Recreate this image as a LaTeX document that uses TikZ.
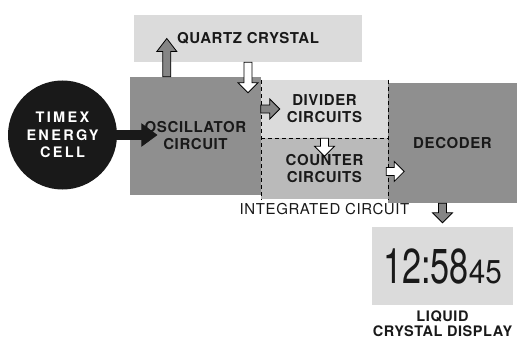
\documentclass[tikz,border=0pt]{standalone}
\usepackage{fontspec}
\setmainfont{TeX Gyre Heros}[LetterSpace=4]
\newfontfamily\lcdfont{TeX Gyre Heros}
\newfontfamily\cellfont{TeX Gyre Heros}[LetterSpace=16]
\usepackage{graphicx}
\usetikzlibrary{calc,positioning}
\definecolor{inkc}{gray}{0.1}
\definecolor{boxdark}{gray}{0.56}
\definecolor{boxmid}{gray}{0.73}
\definecolor{boxlight}{gray}{0.86}
\definecolor{arrgray}{gray}{0.52}
\def\fatshaft{4pt}
\def\fathead{10pt}
\def\fatlen{10pt}
\tikzset{
  block/.style={inner sep=0pt, align=center, text=inkc,
    font=\fontsize{15}{17}\selectfont\bfseries},
  darkblock/.style={block, fill=boxdark},
  midblock/.style={block, fill=boxmid},
  lightblock/.style={block, fill=boxlight},
  cellnode/.style={circle, fill=inkc, text=white, minimum size=109pt, inner sep=0pt,
    align=center, font=\cellfont\fontsize{14.5}{17.5}\selectfont\bfseries},
  fat shaft/.store in=\fatshaft,
  fat head/.store in=\fathead,
  fat len/.store in=\fatlen,
  fatarr/.style={draw=black, line width=0.8pt, line join=miter, fill=white},
  grayarr/.style={fatarr, fill=arrgray},
  sepline/.style={draw=black, line width=0.6pt, dash pattern=on 4pt off 3pt},
  caption/.style={align=center, text=inkc, inner sep=2pt}
}
% block arrow from #2 to #3
\newcommand{\fatarrow}[3][]{%
  \draw[fatarr,#1] ($(#2)!\fatshaft!90:(#3)$)
    -- ($($(#3)!\fatlen!(#2)$)!\fatshaft!90:(#3)$)
    -- ($($(#3)!\fatlen!(#2)$)!\fathead!90:(#3)$)
    -- (#3)
    -- ($($(#3)!\fatlen!(#2)$)!\fathead!-90:(#3)$)
    -- ($($(#3)!\fatlen!(#2)$)!\fatshaft!-90:(#3)$)
    -- ($(#2)!\fatshaft!-90:(#3)$) -- cycle;}

\begin{document}
\begin{tikzpicture}[x=1pt, y=-1pt]
  \useasboundingbox (0,0) rectangle (517,345);

  \node[cellnode] (cell) at (62.5,135) {TIMEX\\ENERGY\\CELL};
  \node[lightblock, minimum width=228pt, minimum height=47pt] (quartz) at (248,38.5) {QUARTZ CRYSTAL};
  \node[darkblock, minimum width=131pt, minimum height=118pt] (osc) at (195.5,136) {OSCILLATOR\\CIRCUIT};
  \node[lightblock, minimum width=127pt, minimum height=58pt] (divider) at (324.5,109) {DIVIDER\\CIRCUITS};
  \node[midblock, minimum width=127pt, minimum height=61pt, below=0pt of divider] (counter) {COUNTER\\CIRCUITS};
  \node[darkblock, minimum width=129pt, minimum height=120pt] (decoder) at (452.5,143) {DECODER};
  \node[caption, font=\fontsize{15}{18}\selectfont, below=1pt of counter] (icl) {INTEGRATED CIRCUIT};

  \node[lightblock, minimum width=141pt, minimum height=78pt] (lcd) at (442.5,266)
    {\lcdfont\mdseries\fontsize{49}{49}\selectfont\scalebox{0.7}[1]{12:58}%
     \fontsize{33}{33}\selectfont\scalebox{0.9}[1]{45}};
  \node[caption, font=\fontsize{14.5}{15}\selectfont\bfseries, below=3pt of lcd] (lcdl) {LIQUID\\CRYSTAL DISPLAY};

  % chip boundaries
  \draw[sepline] (divider.north west) -- (counter.south west);
  \draw[sepline] (divider.south west) -- (divider.south east);
  \draw[sepline] (divider.north east) -- (counter.south east);

  \coordinate (celltip) at ($(cell.east -| osc.west)+(27,0)$);
  \coordinate (qfoot) at ($(osc.north west)+(37,0)$);
  \coordinate (qhead) at (qfoot |- quartz.center);
  \coordinate (qdrop) at ($(quartz.south |- osc.north)+(0,16)$);
  \coordinate (dtip) at ($(divider.west)+(19,0)$);
  \coordinate (ctip) at ($(counter.north)+(0,18)$);
  \coordinate (cdbase) at ($(counter.east)+(-2,2.5)$);
  \coordinate (cdtip) at ($(cdbase)+(18,0)$);
  \coordinate (lbase) at (lcd.north |- decoder.south);
  \coordinate (ltip) at ($(lcd.north)+(0,-4)$);

  \fatarrow[draw=inkc, fill=inkc, fat shaft=4.5pt, fat head=11pt, fat len=15pt]{cell.east}{celltip}
  \fatarrow[grayarr, fat len=13pt]{qfoot}{qhead}
  \fatarrow{quartz.south}{qdrop}
  \fatarrow[grayarr]{divider.west}{dtip}
  \fatarrow{counter.north}{ctip}
  \fatarrow{cdbase}{cdtip}
  \fatarrow[grayarr]{lbase}{ltip}
\end{tikzpicture}
\end{document}
